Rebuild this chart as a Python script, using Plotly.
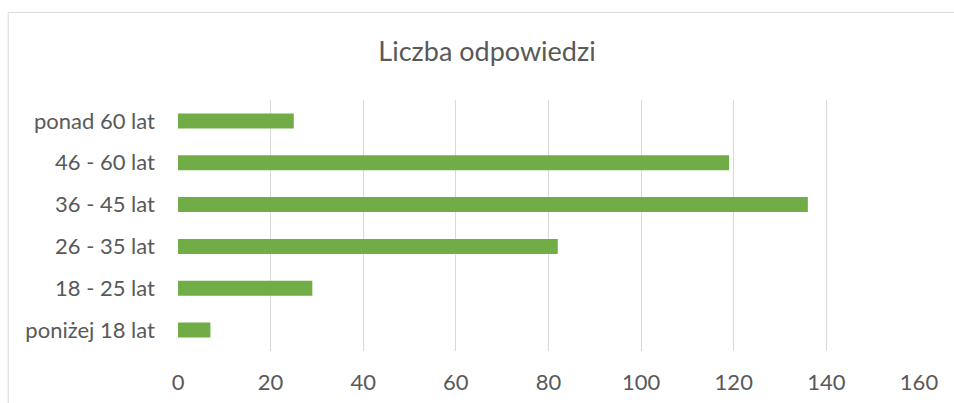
import plotly.graph_objects as go

categories = ["poniżej 18 lat", "18 - 25 lat", "26 - 35 lat", "36 - 45 lat", "46 - 60 lat", "ponad 60 lat"]
values = [7, 29, 82, 136, 119, 25]
x_ticks = [0, 20, 40, 60, 80, 100, 120, 140, 160]
title_text = "Liczba odpowiedzi"

FONT = "Lato, 'Open Sans', sans-serif"
TXT = "#595959"

fig = go.Figure(go.Bar(
    x=values, y=categories, orientation="h",
    marker=dict(color="#70AD47", line=dict(width=0)),
))

W, H = 954, 403
L, R, T, B = 177.5, 34.7, 100, 52
pw = W - L - R
ph = H - T - B

fig.update_layout(
    width=W, height=H,
    margin=dict(l=L, r=R, t=T, b=B, autoexpand=False),
    paper_bgcolor="white", plot_bgcolor="white",
    bargap=0.64,
    showlegend=False,
    title=dict(text=title_text, x=487 / W, xref="container", xanchor="center",
               y=1 - 52 / H, yref="container", yanchor="middle",
               font=dict(family=FONT, size=27, color=TXT)),
    xaxis=dict(range=[0, 160], tickvals=x_ticks, showgrid=True, gridcolor="#D9D9D9",
               gridwidth=1, zeroline=False, showline=False, ticks="",
               ticklabelstandoff=16,
               tickfont=dict(family=FONT, size=22, color=TXT)),
    yaxis=dict(categoryorder="array", categoryarray=categories, showgrid=False,
               zeroline=False, showline=False, ticks="", ticklabelstandoff=22,
               tickfont=dict(family=FONT, size=22, color=TXT)),
    shapes=[dict(type="rect", xref="paper", yref="paper",
                 x0=(7.5 - L) / pw, x1=(W + 20 - L) / pw,
                 y0=-(B + 20) / ph, y1=(H - B - 12.5) / ph,
                 line=dict(color="#D9D9D9", width=1), fillcolor="rgba(0,0,0,0)",
                 layer="below")],
)

fig.write_html("out.html", config={"displayModeBar": False},
               post_script="document.body.style.margin='0';document.body.style.overflow='hidden';")
